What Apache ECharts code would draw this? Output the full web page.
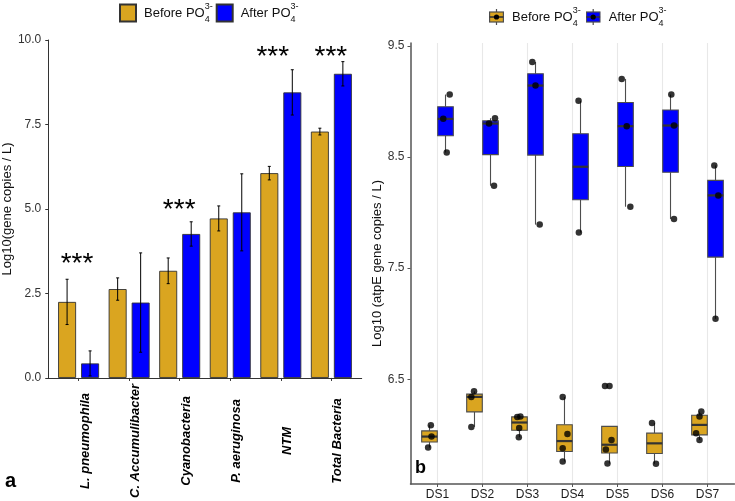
<!DOCTYPE html>
<html><head><meta charset="utf-8">
<script src="https://cdn.jsdelivr.net/npm/echarts@6/dist/echarts.min.js"></script>
<style>html,body{margin:0;padding:0;background:#fff}#c{width:735px;height:501px}</style>
</head><body><div id="c"></div>
<script>
// ---------- Panel a data ----------
const barCategories = ['L. pneumophila', 'C. Accumulibacter', 'Cyanobacteria', 'P. aeruginosa', 'NTM', 'Total Bacteria'];
const beforeMean = [2.25, 2.63, 3.17, 4.72, 6.06, 7.29];
const beforeErr  = [0.67, 0.33, 0.38, 0.37, 0.20, 0.10];
const afterMean  = [0.43, 2.23, 4.26, 4.90, 8.45, 9.00];
const afterErr   = [0.37, 1.47, 0.36, 1.14, 0.67, 0.36];
const sigX = [0.97, 2.99, 4.84, 5.99];
const sigY = [3.55, 5.15, 9.68, 9.68];
const sigText = '***';
const leftTicks = [0, 2.5, 5, 7.5, 10];

// ---------- Panel b data ----------
const dsCategories = ['DS1', 'DS2', 'DS3', 'DS4', 'DS5', 'DS6', 'DS7'];
const beforeDS = [
  [5.885, 5.984, 6.086], [6.071, 6.341, 6.391], [5.978, 6.061, 6.160, 6.165],
  [5.760, 5.879, 6.008, 6.340], [5.742, 5.867, 5.954, 6.440], [5.739, 6.107],
  [5.954, 6.014, 6.164, 6.209]
];
const beforeJitter = [
  [-0.03, 0.045, 0.03], [-0.07, -0.07, -0.01], [-0.015, -0.007, -0.05, 0.02],
  [-0.04, -0.04, 0.065, -0.04], [-0.045, -0.08, 0.045, -0.1], [0.033, -0.055],
  [0, -0.075, 0, 0.04]
];
const afterDS = [
  [8.541, 8.844, 9.063], [8.242, 8.802, 8.850], [7.892, 9.144, 9.356],
  [7.820, 9.006], [8.053, 8.778, 9.204], [7.943, 8.784, 9.063],
  [7.044, 8.155, 8.425]
];
const afterJitter = [
  [0.027, -0.05, 0.093], [0.078, -0.033, 0.1], [0.093, 0, -0.071],
  [-0.036, -0.044], [0.107, 0.027, -0.084], [0.078, 0.078, 0.018],
  [0, 0.062, -0.027]
];
const rightTicks = [6.5, 7.5, 8.5, 9.5];

const seriesNames = ['Before PO4', 'After PO4'];
const legendLabels = ['Before PO', 'After PO'];

// ---------- styles ----------
const GOLD = '#DAA520', BLUE = '#0000FF', EDGE = '#333333';
const BAR_W = 18, BAR_GAP_PX = 5;
const DODGE = 0.178, BOX_W = 0.347;
const STAR_DY = 6;
const FONT = '"Liberation Sans", Arial, Helvetica, sans-serif';

function quantile(s, p) {
  const h = (s.length - 1) * p, lo = Math.floor(h), hi = Math.ceil(h);
  return s[lo] + (h - lo) * (s[hi] - s[lo]);
}
function boxStats(vals) {
  const s = vals.slice().sort((a, b) => a - b);
  const q1 = quantile(s, 0.25), med = quantile(s, 0.5), q3 = quantile(s, 0.75);
  const iqr = q3 - q1, lf = q1 - 1.5 * iqr, hf = q3 + 1.5 * iqr;
  const inside = s.filter(v => v >= lf - 1e-9 && v <= hf + 1e-9);
  const outliers = s.filter(v => v < lf - 1e-9 || v > hf + 1e-9);
  return { lowW: inside[0], q1, med, q3, highW: inside[inside.length - 1], outliers };
}

function boxData(groups) {
  return groups.map((g, i) => { const b = boxStats(g); return [i + 1, b.lowW, b.q1, b.med, b.q3, b.highW]; });
}
function pointData(groups, jitter, offset) {
  const out = [];
  groups.forEach((g, i) => g.forEach((v, j) => out.push([i + 1 + offset + jitter[i][j], v])));
  return out;
}
function outlierData(groups, offset) {
  const out = [];
  groups.forEach((g, i) => boxStats(g).outliers.forEach(v => out.push([i + 1 + offset, v])));
  return out;
}

function boxRenderer(offset, fill) {
  return function (params, api) {
    const c = api.value(0) + offset;
    const xl = api.coord([c - BOX_W / 2, 7])[0];
    const xr = api.coord([c + BOX_W / 2, 7])[0];
    const xc = api.coord([c, 7])[0];
    const y = k => api.coord([c, api.value(k)])[1];
    const yLow = y(1), yQ1 = y(2), yMed = y(3), yQ3 = y(4), yHigh = y(5);
    const ls = { stroke: '#4d4d4d', lineWidth: 1.1 };
    return { type: 'group', children: [
      { type: 'line', shape: { x1: xc, y1: yHigh, x2: xc, y2: yQ3 }, style: ls },
      { type: 'line', shape: { x1: xc, y1: yQ1, x2: xc, y2: yLow }, style: ls },
      { type: 'rect', shape: { x: xl, y: yQ3, width: xr - xl, height: yQ1 - yQ3 }, style: { fill: fill, stroke: '#4d4d4d', lineWidth: 1.1 } },
      { type: 'line', shape: { x1: xl, y1: yMed, x2: xr, y2: yMed }, style: { stroke: '#333', lineWidth: 2.2 } }
    ] };
  };
}

function errRenderer(pxOffset) {
  return function (params, api) {
    const x = api.coord([api.value(0), 0])[0] + pxOffset;
    const y1 = api.coord([api.value(0), api.value(1)])[1];
    const y2 = api.coord([api.value(0), api.value(2)])[1];
    const st = { stroke: '#000', lineWidth: 1 };
    return { type: 'group', children: [
      { type: 'line', shape: { x1: x, y1: y1, x2: x, y2: y2 }, style: st },
      { type: 'line', shape: { x1: x - 1.5, y1: y1, x2: x + 1.5, y2: y1 }, style: st },
      { type: 'line', shape: { x1: x - 1.5, y1: y2, x2: x + 1.5, y2: y2 }, style: st }
    ] };
  };
}

function boxIcon(fill) {
  const svg = '<svg xmlns="http://www.w3.org/2000/svg" width="15" height="16" viewBox="0 0 15 16">' +
    '<line x1="7.5" y1="0" x2="7.5" y2="16" stroke="#4d4d4d" stroke-width="1.2"/>' +
    '<rect x="0.6" y="3" width="13.8" height="10" fill="' + fill + '" stroke="#4d4d4d" stroke-width="1.2"/>' +
    '<line x1="0.6" y1="8" x2="14.4" y2="8" stroke="#333" stroke-width="1.6"/>' +
    '<circle cx="7.5" cy="8" r="2.6" fill="#000"/></svg>';
  return 'image://data:image/svg+xml;charset=utf-8,' + encodeURIComponent(svg);
}

const legendRich = {
  t: { fontSize: 13, fontFamily: FONT, color: '#111', lineHeight: 22, padding: [0, 0, 0, 3] },
  sup: { fontSize: 9, fontFamily: FONT, color: '#111', width: 0, lineHeight: 10, verticalAlign: 'top' },
  sub: { fontSize: 9, fontFamily: FONT, color: '#111', lineHeight: 10, verticalAlign: 'bottom' }
};
function legendFmt(name) {
  const i = seriesNames.indexOf(name);
  return '{t|' + legendLabels[i] + '}{sup|3-}{sub|4}';
}

const chart = echarts.init(document.getElementById('c'), null, { renderer: 'canvas' });
const halfOff = (BAR_W + BAR_GAP_PX) / 2;

chart.setOption({
  animation: false,
  textStyle: { fontFamily: FONT },
  title: [
    { text: 'a', left: 5, top: 471, padding: 0, textStyle: { fontSize: 20, fontWeight: 'bold', color: '#000', fontFamily: FONT } },
    { text: 'b', left: 415, top: 459, padding: 0, textStyle: { fontSize: 18, fontWeight: 'bold', color: '#000', fontFamily: FONT } }
  ],
  legend: [
    { data: seriesNames, left: 119, top: 2, padding: 0, itemWidth: 16, itemHeight: 17, itemGap: 3, icon: 'rect',
      formatter: legendFmt, textStyle: { rich: legendRich }, selectedMode: false },
    { data: seriesNames.map((n, i) => ({ name: n, icon: boxIcon(i === 0 ? GOLD : BLUE) })),
      left: 489, top: 6, padding: 0, itemWidth: 15, itemHeight: 16, itemGap: 5,
      formatter: legendFmt, textStyle: { rich: legendRich }, selectedMode: false }
  ],
  grid: [
    { left: 44, top: 40, width: 317.7, height: 338 },
    { left: 410.5, top: 43, width: 324, height: 441.3 }
  ],
  xAxis: [
    { gridIndex: 0, type: 'value', min: 0.4, max: 6.6,
      axisLine: { show: true, onZero: false, lineStyle: { color: EDGE, width: 1 } },
      axisTick: { show: true, length: 3, customValues: barCategories.map((c, i) => i + 1), lineStyle: { color: EDGE } },
      splitLine: { show: false },
      axisLabel: { customValues: barCategories.map((c, i) => i + 1), rotate: 90, align: 'center', verticalAlign: 'top',
        margin: 63, fontSize: 13, fontWeight: 'bold', fontStyle: 'italic', color: '#000',
        formatter: v => barCategories[Math.round(v) - 1] } },
    { gridIndex: 1, type: 'value', min: 0.4, max: 7.6,
      axisLine: { show: true, onZero: false, lineStyle: { color: '#555', width: 1.5 } },
      axisTick: { show: true, length: 3, customValues: dsCategories.map((c, i) => i + 1), lineStyle: { color: '#555' } },
      splitLine: { show: true, lineStyle: { color: '#e8e8e8', width: 1.1 } },
      axisLabel: { customValues: dsCategories.map((c, i) => i + 1), margin: 5, fontSize: 12, color: '#1a1a1a',
        formatter: v => dsCategories[Math.round(v) - 1] } }
  ],
  yAxis: [
    { gridIndex: 0, type: 'value', min: 0, max: 10, interval: 2.5,
      name: 'Log10(gene copies / L)', nameLocation: 'middle', nameGap: 32,
      nameTextStyle: { fontSize: 13, color: '#111', fontFamily: FONT },
      axisLine: { show: true, lineStyle: { color: EDGE, width: 1 } },
      axisTick: { show: true, length: 3, lineStyle: { color: EDGE } },
      splitLine: { show: false },
      axisLabel: { fontSize: 12, color: '#333', margin: 7, formatter: v => v.toFixed(1) } },
    { gridIndex: 1, type: 'value', min: 5.557, max: 9.527,
      name: 'Log10 (atpE gene copies / L)', nameLocation: 'middle', nameGap: 27,
      nameTextStyle: { fontSize: 13, color: '#111', fontFamily: FONT },
      axisLine: { show: true, lineStyle: { color: '#555', width: 1.5 } },
      axisTick: { show: true, length: 3, customValues: rightTicks, lineStyle: { color: '#555' } },
      splitLine: { show: false },
      axisLabel: { customValues: rightTicks, fontSize: 12, color: '#333', margin: 6, formatter: v => v.toFixed(1) } }
  ],
  series: [
    { name: seriesNames[0], type: 'bar', xAxisIndex: 0, yAxisIndex: 0, barWidth: BAR_W, barGap: (BAR_GAP_PX / BAR_W * 100) + '%',
      itemStyle: { color: GOLD, borderColor: EDGE, borderWidth: 0.9 },
      data: beforeMean.map((v, i) => [i + 1, v]) },
    { name: seriesNames[1], type: 'bar', xAxisIndex: 0, yAxisIndex: 0, barWidth: BAR_W,
      itemStyle: { color: BLUE, borderColor: EDGE, borderWidth: 0.9 },
      data: afterMean.map((v, i) => [i + 1, v]) },
    { type: 'custom', xAxisIndex: 0, yAxisIndex: 0, z: 5, renderItem: errRenderer(-halfOff),
      encode: { x: 0, y: [1, 2] },
      data: beforeMean.map((v, i) => [i + 1, Math.max(0, v - beforeErr[i]), v + beforeErr[i]]) },
    { type: 'custom', xAxisIndex: 0, yAxisIndex: 0, z: 5, renderItem: errRenderer(halfOff),
      encode: { x: 0, y: [1, 2] },
      data: afterMean.map((v, i) => [i + 1, Math.max(0, v - afterErr[i]), v + afterErr[i]]) },
    { type: 'custom', xAxisIndex: 0, yAxisIndex: 0, z: 6, encode: { x: 0, y: 1 },
      renderItem: function (params, api) {
        const p = api.coord([api.value(0), api.value(1)]);
        return { type: 'text', x: p[0], y: p[1] + STAR_DY, style: { text: sigText, fontSize: 28, fontFamily: FONT,
          fill: '#000', align: 'center', verticalAlign: 'middle' } };
      },
      data: sigX.map((x, i) => [x, sigY[i]]) },
    // panel b
    { name: seriesNames[0], type: 'custom', xAxisIndex: 1, yAxisIndex: 1, itemStyle: { color: GOLD },
      renderItem: boxRenderer(-DODGE, GOLD), encode: { x: 0, y: [1, 2, 3, 4, 5] }, data: boxData(beforeDS) },
    { name: seriesNames[1], type: 'custom', xAxisIndex: 1, yAxisIndex: 1, itemStyle: { color: BLUE },
      renderItem: boxRenderer(DODGE, BLUE), encode: { x: 0, y: [1, 2, 3, 4, 5] }, data: boxData(afterDS) },
    { type: 'scatter', xAxisIndex: 1, yAxisIndex: 1, symbolSize: 6.5, itemStyle: { color: '#000' }, z: 4,
      data: outlierData(beforeDS, -DODGE).concat(outlierData(afterDS, DODGE)) },
    { type: 'scatter', xAxisIndex: 1, yAxisIndex: 1, symbolSize: 6.5, itemStyle: { color: '#000' }, z: 4,
      data: pointData(beforeDS, beforeJitter, -DODGE).concat(pointData(afterDS, afterJitter, DODGE)) }
  ]
});
</script></body></html>
